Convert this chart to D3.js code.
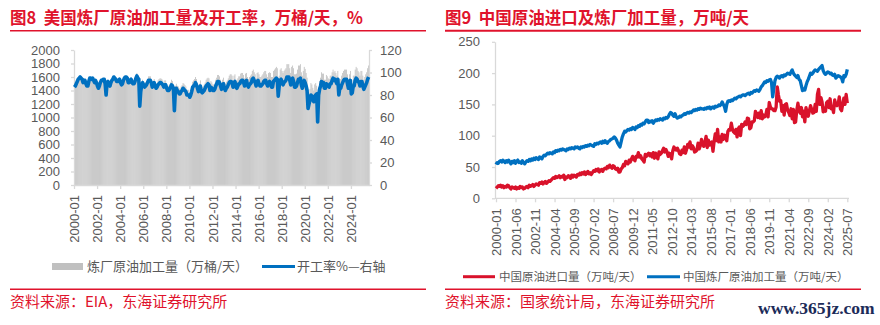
<!DOCTYPE html>
<html><head><meta charset="utf-8">
<script src="https://cdn.jsdelivr.net/npm/d3@7"></script>
<style>
body{margin:0;background:#fff}
svg{display:block}
.num{font-family:"Liberation Sans",Arial,sans-serif}
.cjk{font-family:"Noto Sans CJK SC","Noto Sans",sans-serif;white-space:pre}
</style>
</head><body>
<svg id="c" width="880" height="325"></svg>
<script>
// ---------- categories ----------
const months = [];
for (let y = 2000; y <= 2025; y++) {
  for (let m = 1; m <= 12; m++) {
    if (y === 2025 && m > 7) break;
    months.push(y + "-" + String(m).padStart(2, "0"));
  }
}

// ---------- Fig 8: US refinery crude input (万桶/天), monthly ----------
const usRefineryInput = [
1440,1450,1490,1520,1550,1570,1580,1570,1550,1500,1530,1530,
1490,1460,1460,1530,1580,1580,1560,1580,1540,1510,1540,1510,
1480,1440,1480,1530,1560,1560,1580,1580,1510,1340,1530,1550,
1500,1480,1530,1560,1580,1610,1600,1580,1550,1550,1560,1580,
1540,1500,1520,1570,1610,1620,1620,1610,1540,1540,1570,1590,
1560,1540,1540,1570,1620,1660,1620,1610,1200,1420,1520,1560,
1540,1510,1520,1540,1570,1610,1610,1610,1570,1510,1540,1570,
1530,1500,1510,1550,1570,1580,1580,1570,1550,1510,1550,1550,
1500,1470,1470,1490,1520,1560,1540,1500,1160,1470,1500,1470,
1460,1430,1430,1460,1480,1510,1500,1480,1460,1410,1410,1410,
1370,1410,1460,1530,1550,1570,1600,1570,1510,1460,1500,1550,
1470,1450,1470,1490,1520,1560,1580,1590,1580,1490,1540,1520,
1490,1490,1500,1560,1590,1630,1630,1610,1560,1500,1560,1590,
1530,1500,1530,1550,1580,1620,1640,1640,1620,1550,1620,1640,
1560,1540,1580,1610,1610,1650,1660,1660,1630,1580,1650,1660,
1600,1570,1600,1620,1640,1690,1710,1670,1640,1580,1660,1670,
1640,1600,1600,1620,1640,1670,1690,1690,1640,1600,1660,1670,
1660,1600,1600,1690,1710,1730,1750,1730,1450,1620,1710,1730,
1690,1660,1690,1710,1730,1790,1790,1790,1730,1660,1750,1770,
1730,1640,1640,1650,1710,1770,1770,1790,1670,1620,1690,1750,
1720,1660,1590,1290,1360,1420,1510,1490,1440,1400,1490,1510,
1470,1010,1450,1540,1590,1670,1650,1650,1560,1560,1630,1610,
1580,1570,1620,1620,1670,1710,1670,1690,1660,1620,1690,1440,
1570,1570,1620,1660,1690,1710,1710,1710,1640,1570,1640,1690,
1490,1510,1620,1620,1710,1750,1730,1690,1670,1620,1690,1690,
1620,1560,1600,1640,1670,1730,1770
];
// US refinery utilization (%), right axis
const usUtilization = [
87,88,90,92,94,95,96,95,94,91,93,93,
90,88,88,92,95,95,94,95,93,91,93,91,
88,86,88,91,93,93,94,94,90,80,91,92,
89,88,91,93,94,96,95,94,92,92,93,94,
91,89,90,93,95,96,96,95,91,91,93,94,
91,90,90,92,95,97,95,94,70,83,89,91,
89,87,88,89,91,93,93,93,91,87,89,91,
88,86,87,89,90,91,91,90,89,87,89,89,
86,84,84,85,87,89,88,86,66,84,86,84,
83,81,81,83,84,86,85,84,83,80,80,80,
78,80,83,87,88,89,91,89,86,83,85,88,
83,82,83,84,86,88,89,90,89,84,87,86,
84,84,85,88,90,92,92,91,88,85,88,90,
86,84,86,87,89,91,92,92,91,87,91,92,
87,86,88,90,90,92,93,93,91,88,92,93,
89,87,89,90,91,94,95,93,91,88,92,93,
90,88,88,89,90,92,93,93,90,88,91,92,
90,87,87,92,93,94,95,94,79,88,93,94,
91,89,91,92,93,96,96,96,93,89,94,95,
92,87,87,88,91,94,94,95,89,86,90,93,
91,88,84,68,72,75,80,79,76,74,79,80,
81,56,80,85,88,92,91,91,86,86,90,89,
88,87,90,90,93,95,93,94,92,90,94,80,
86,86,89,91,93,94,94,94,90,86,90,93,
81,82,88,88,93,95,94,92,91,88,92,92,
88,85,87,89,91,94,96
];

// ---------- Fig 9: China (万吨/天), monthly ----------
const cnCrudeImports = [
16,18,20,19,21,18,20,17,19,18,21,20,
17,15,18,17,16,18,15,17,16,19,17,18,
15,16,18,19,17,21,19,20,22,19,21,23,
22,21,25,24,26,23,25,27,24,26,28,27,
29,31,33,32,35,33,34,36,33,35,34,37,
30,34,33,36,35,32,37,34,37,36,34,38,
37,40,38,41,39,42,38,40,43,39,41,38,
41,44,43,46,44,47,42,45,46,43,47,48,
47,51,49,53,50,48,52,51,47,46,48,42,
42,47,49,54,52,59,57,55,61,58,63,67,
62,60,67,66,73,66,68,63,61,58,70,67,
70,72,68,71,66,73,64,72,68,63,74,70,
72,76,80,74,78,74,67,72,70,63,76,82,
78,77,80,76,71,70,77,73,82,72,78,86,
82,90,79,84,81,74,75,77,88,79,84,94,
86,83,90,99,81,93,85,87,90,75,91,103,
92,110,90,98,90,102,94,101,98,92,107,110,
109,120,110,106,104,110,98,111,114,100,118,115,
117,122,118,128,127,111,113,122,122,124,139,134,
129,136,128,140,127,133,130,133,142,130,153,146,
143,143,140,140,146,178,165,155,156,139,148,133,
150,151,141,137,132,143,127,142,121,122,141,152,
140,136,145,130,139,122,145,137,131,140,148,142,
136,137,150,139,166,174,150,161,154,138,144,139,
153,155,145,159,143,147,137,157,150,148,150,162,
143,140,150,160,150,166,152
];
const cnRefineryThroughput = [
54,57,56,59,60,58,61,59,57,60,58,61,
58,55,59,57,60,56,59,61,57,58,56,60,
57,55,58,60,59,62,60,63,61,64,62,65,
63,62,66,65,63,67,69,68,70,72,71,73,
72,71,74,73,76,75,77,76,78,77,79,78,
77,76,79,78,80,79,81,80,79,82,81,82,
80,79,82,81,83,82,84,83,85,84,86,85,
84,83,87,86,88,87,89,90,88,91,89,92,
89,88,91,92,94,95,96,98,96,93,88,85,
82,90,98,103,107,106,108,110,109,111,110,113,
112,110,114,113,116,115,118,117,120,119,122,125,
125,121,123,122,124,120,123,125,124,126,125,127,
126,125,128,127,129,128,130,134,137,136,133,131,
135,130,128,129,131,130,132,133,135,134,136,137,
136,138,137,139,141,140,142,141,143,142,144,143,
143,142,144,143,145,144,146,143,145,146,144,147,
146,147,149,148,150,154,150,146,139,150,155,156,
155,157,156,158,160,159,161,162,163,162,164,165,
165,164,166,167,168,166,169,168,170,172,171,173,
172,171,174,178,180,183,186,185,188,187,189,190,
185,162,175,188,193,195,194,192,195,196,194,197,
196,198,200,199,198,202,205,200,197,195,193,196,
190,188,180,172,174,173,180,186,190,195,200,198,
200,203,205,204,203,206,208,210,212,204,200,198,
200,202,201,199,200,197,196,198,192,194,196,195,
194,192,186,196,194,198,206
];

// ---------- tick labels ----------
const usXTicks = ["2000-01","2002-01","2004-01","2006-01","2008-01","2010-01","2012-01",
                  "2014-01","2016-01","2018-01","2020-01","2022-01","2024-01"];
const usLeftTicks = [0,200,400,600,800,1000,1200,1400,1600,1800,2000];
const usRightTicks = [0,20,40,60,80,100,120];
const cnXTicks = ["2000-01","2001-06","2002-11","2004-04","2005-09","2007-02","2008-07",
                  "2009-12","2011-05","2012-10","2014-03","2015-08","2017-01","2018-06",
                  "2019-11","2021-04","2022-09","2024-02","2025-07"];
const cnYTicks = [0,50,100,150,200,250];

// ---------- drawing ----------
const RED = "#e0132c", BLUE = "#0070c0", GRAY = "#b9b9b9", AX = "#d9d9d9", TXT = "#595959";
const svg = d3.select("#c");
const fmt = d3.format("d");

function styleAxis(g, rotate, off) {
  g.select(".domain").attr("stroke", AX).attr("stroke-width", 1.3);
  g.selectAll(".tick line").attr("stroke", AX).attr("stroke-width", 1.3);
  g.selectAll(".tick text").attr("fill", TXT)
    .style("font-size", "13px").style("font-family", '"Liberation Sans",Arial,sans-serif');
  if (rotate) {
    g.selectAll(".tick text").attr("transform", "rotate(-90)")
      .attr("text-anchor", "end").attr("x", -off).attr("y", 0).attr("dy", "0.35em");
  }
}

// Titles & rules
svg.append("text").attr("class","cjk").attr("x", 10).attr("y", 24)
  .attr("fill", RED).style("font-size","16.5px").style("font-weight","700")
  .text("图8\u00a0\u00a0美国炼厂原油加工量及开工率，万桶/天，%");
svg.append("text").attr("class","cjk").attr("x", 445).attr("y", 24)
  .attr("fill", RED).style("font-size","16.5px").style("font-weight","700")
  .text("图9\u00a0\u00a0中国原油进口及炼厂加工量，万吨/天");
[[10,426,30.8,1.5],[445,861,30.8,2],[10,426,289.3,1.5],[445,861,289.3,1.5]].forEach(d=>{
  svg.append("line").attr("x1",d[0]).attr("x2",d[1]).attr("y1",d[2]).attr("y2",d[2])
    .attr("stroke", RED).attr("stroke-width", d[3]);
});
svg.append("text").attr("class","cjk").attr("x", 10).attr("y", 307)
  .attr("fill", RED).style("font-size","15px").text("资料来源：EIA，东海证券研究所");
svg.append("text").attr("class","cjk").attr("x", 445).attr("y", 307)
  .attr("fill", RED).style("font-size","15px").text("资料来源：国家统计局，东海证券研究所");
svg.append("text").attr("x", 758).attr("y", 314)
  .attr("fill", "#1c2b58").style("font-family",'"Liberation Serif","DejaVu Serif",serif')
  .style("font-size","17.5px").style("font-weight","700").text("www.365jz.com");

// ===== Fig 8 =====
const L = {x0: 74, x1: 369, yTop: 50, yBot: 185};
const xL = d3.scaleBand().domain(months).range([L.x0, L.x1]).paddingInner(0.22).paddingOuter(0);
const yL = d3.scaleLinear().domain([0, 2000]).range([L.yBot, L.yTop]);
const yR = d3.scaleLinear().domain([0, 120]).range([L.yBot, L.yTop]);

svg.append("g").selectAll("rect").data(usRefineryInput).join("rect")
  .attr("x", (d,i) => xL(months[i])).attr("width", xL.bandwidth())
  .attr("y", d => yL(d)).attr("height", d => yL(0) - yL(d)).attr("fill", GRAY);

const gxL = svg.append("g").attr("transform", `translate(0,${L.yBot})`)
  .call(d3.axisBottom(xL).tickValues(usXTicks).tickSize(4).tickSizeOuter(0));
styleAxis(gxL, true, 10);
const gyL = svg.append("g").attr("transform", `translate(${L.x0},0)`)
  .call(d3.axisLeft(yL).tickValues(usLeftTicks).tickFormat(fmt).tickSize(3).tickPadding(11).tickSizeOuter(0));
styleAxis(gyL);
const gyR = svg.append("g").attr("transform", `translate(${L.x1},0)`)
  .call(d3.axisRight(yR).tickValues(usRightTicks).tickFormat(fmt).tickSize(3).tickPadding(8).tickSizeOuter(0));
styleAxis(gyR);

svg.append("path").datum(usUtilization)
  .attr("d", d3.line().x((d,i) => xL(months[i]) + xL.bandwidth()/2).y(d => yR(d)))
  .attr("fill","none").attr("stroke", BLUE).attr("stroke-width", 3.6).attr("stroke-linejoin","round");

// legend fig 8
svg.append("rect").attr("x",52).attr("y",263).attr("width",31).attr("height",7).attr("fill","#c0c0c0");
svg.append("text").attr("class","cjk").attr("x",87).attr("y",271).attr("fill",TXT)
  .style("font-size","13px").text("炼厂原油加工量（万桶/天）");
svg.append("line").attr("x1",262).attr("x2",295).attr("y1",266.5).attr("y2",266.5)
  .attr("stroke",BLUE).attr("stroke-width",3);
svg.append("text").attr("class","cjk").attr("x",297).attr("y",271).attr("fill",TXT)
  .style("font-size","13px").text("开工率%—右轴");

// ===== Fig 9 =====
const R = {x0: 495, x1: 849, yTop: 41.8, yBot: 198.3};
const xC = d3.scalePoint().domain(months).range([496, 847.3]);
const yC = d3.scaleLinear().domain([0, 250]).range([R.yBot, R.yTop]);

const gxC = svg.append("g").attr("transform", `translate(0,${R.yBot})`)
  .call(d3.axisBottom(xC).tickValues(cnXTicks).tickSize(4).tickSizeOuter(0));
gxC.select(".domain").attr("d", `M${R.x0},0H${R.x1}`);
styleAxis(gxC, true, 10);
const gyC = svg.append("g").attr("transform", `translate(${R.x0},0)`)
  .call(d3.axisLeft(yC).tickValues(cnYTicks).tickFormat(fmt).tickSize(3).tickPadding(12).tickSizeOuter(0));
styleAxis(gyC);

const lineC = d3.line().x((d,i) => xC(months[i])).y(d => yC(d));
svg.append("path").datum(cnRefineryThroughput).attr("d", lineC)
  .attr("fill","none").attr("stroke", BLUE).attr("stroke-width", 3.3).attr("stroke-linejoin","round");
svg.append("path").datum(cnCrudeImports).attr("d", lineC)
  .attr("fill","none").attr("stroke", "#d9122b").attr("stroke-width", 3.3).attr("stroke-linejoin","round");

// legend fig 9
svg.append("line").attr("x1",463).attr("x2",495).attr("y1",276.7).attr("y2",276.7)
  .attr("stroke","#d9122b").attr("stroke-width",3);
svg.append("text").attr("class","cjk").attr("x",499).attr("y",281).attr("fill",TXT)
  .style("font-size","11.5px").text("中国原油进口量（万吨/天）");
svg.append("line").attr("x1",647).attr("x2",680).attr("y1",276.7).attr("y2",276.7)
  .attr("stroke",BLUE).attr("stroke-width",3);
svg.append("text").attr("class","cjk").attr("x",683).attr("y",281).attr("fill",TXT)
  .style("font-size","11.5px").text("中国炼厂原油加工量（万吨/天）");
</script>
</body></html>
